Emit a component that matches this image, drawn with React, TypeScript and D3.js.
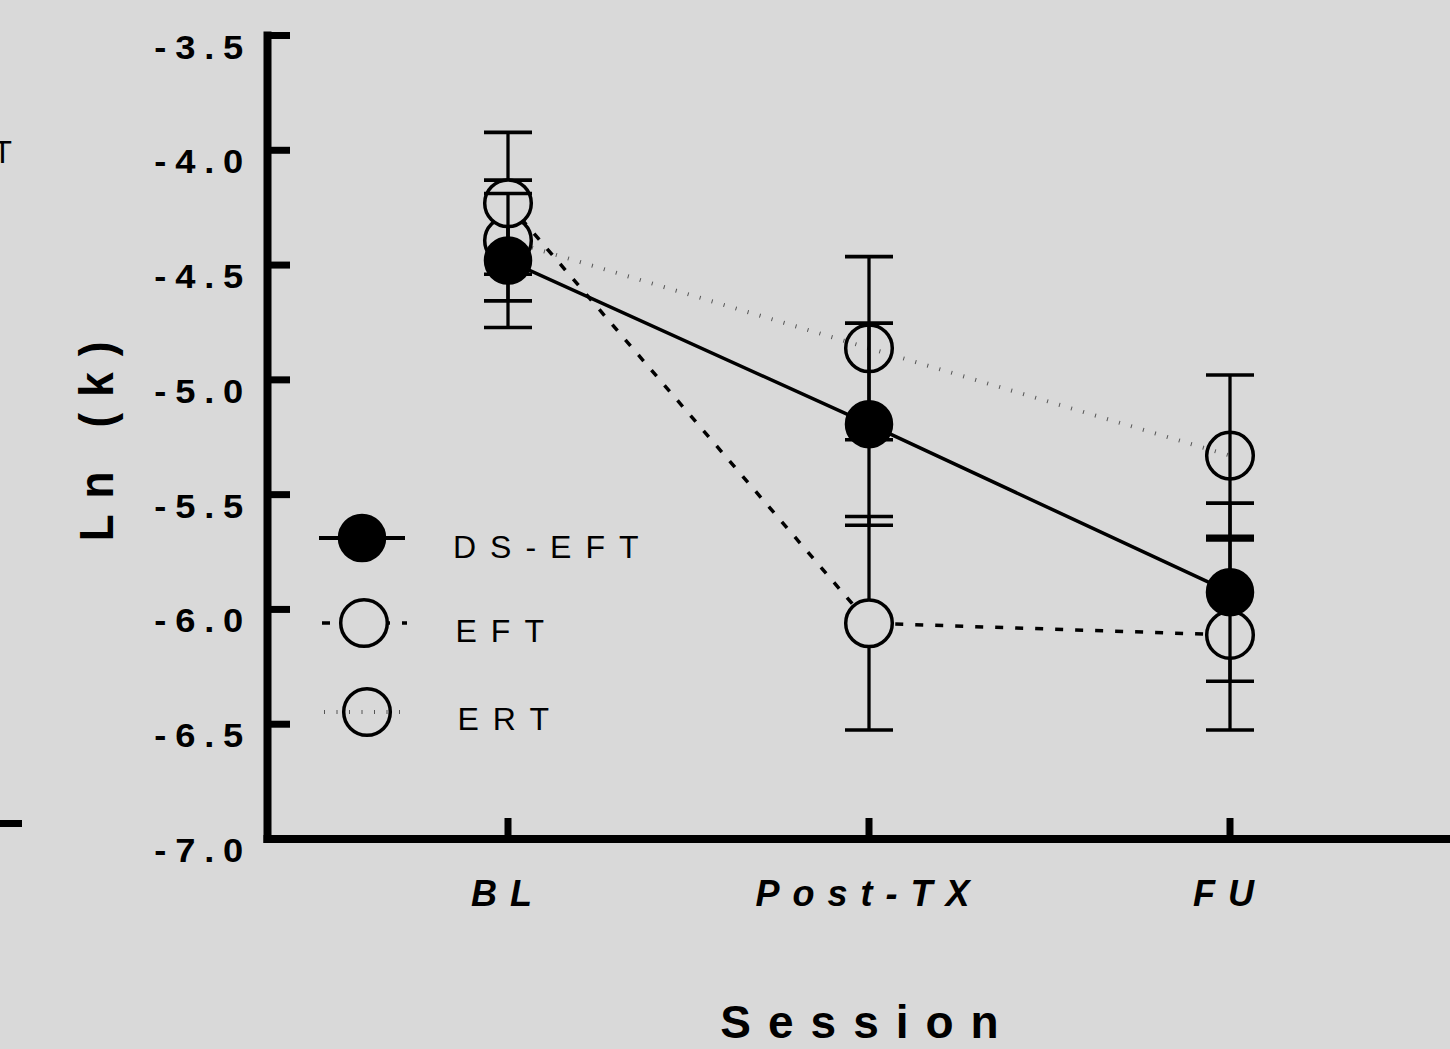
import { useRef, useEffect } from "react";
import * as d3 from "d3";

// Session means and SEM (Ln(k))
const sessions = ["BL", "Post-TX", "FU"];
const dsEftMean = [-4.48, -5.193, -5.925];
const dsEftSem = [0.292, 0.44, 0.388];
const eftMean = [-4.231, -6.06, -6.111];
const eftSem = [0.309, 0.465, 0.414];
const ertMean = [-4.393, -4.862, -5.33];
const ertSem = [0.263, 0.399, 0.351];
const yTicks = [-3.5, -4.0, -4.5, -5.0, -5.5, -6.0, -6.5, -7.0];
const legendLabels = ["DS-EFT", "EFT", "ERT"];

const W = 1450;
const H = 1049;
const BG = "#d9d9d9";
const FONT = "'Liberation Sans', Arial, Helvetica, sans-serif";

export default function App() {
  const svgRef = useRef<SVGSVGElement | null>(null);

  useEffect(() => {
    if (!svgRef.current) return;
    const svg = d3.select(svgRef.current);
    svg.selectAll("*").remove();

    svg.append("rect").attr("width", W).attr("height", H).attr("fill", BG);

    const x = d3.scalePoint<string>().domain(sessions).range([508, 1230]);
    const y = d3.scaleLinear().domain([-3.5, -7]).range([35.5, 839]);

    // fragments of the neighbouring panel at the left edge
    svg.append("text")
      .attr("x", -7).attr("y", 163)
      .attr("font-family", FONT).attr("font-size", 31)
      .attr("fill", "#000").text("T");
    svg.append("rect").attr("x", 0).attr("y", 820).attr("width", 22).attr("height", 7).attr("fill", "#000");

    // Y axis
    svg.append("line")
      .attr("x1", 267.5).attr("x2", 267.5)
      .attr("y1", y(-3.5) - 4).attr("y2", y(-7) + 4)
      .attr("stroke", "#000").attr("stroke-width", 8);
    yTicks.forEach((t) => {
      svg.append("line")
        .attr("x1", 264).attr("x2", 290)
        .attr("y1", y(t)).attr("y2", y(t))
        .attr("stroke", "#000").attr("stroke-width", 7);
      svg.append("g")
        .attr("transform", `translate(252,${y(t) + 23}) scale(1.1,1)`)
        .append("text")
        .attr("text-anchor", "end")
        .attr("font-family", FONT).attr("font-weight", "bold")
        .attr("font-size", 33).attr("letter-spacing", 8)
        .attr("fill", "#000")
        .text(t.toFixed(1));
    });

    // X axis
    svg.append("line")
      .attr("x1", 263.5).attr("x2", W)
      .attr("y1", 839).attr("y2", 839)
      .attr("stroke", "#000").attr("stroke-width", 8);
    sessions.forEach((s) => {
      svg.append("line")
        .attr("x1", x(s)!).attr("x2", x(s)!)
        .attr("y1", 839).attr("y2", 818)
        .attr("stroke", "#000").attr("stroke-width", 7);
      svg.append("text")
        .attr("x", x(s)!).attr("y", 906)
        .attr("text-anchor", "middle")
        .attr("font-family", FONT).attr("font-weight", "bold").attr("font-style", "italic")
        .attr("font-size", 36).attr("letter-spacing", 13)
        .attr("fill", "#000")
        .text(s);
    });

    // axis titles
    svg.append("text")
      .attr("x", 868).attr("y", 1038)
      .attr("text-anchor", "middle")
      .attr("font-family", FONT).attr("font-weight", "bold")
      .attr("font-size", 46).attr("letter-spacing", 17)
      .attr("fill", "#000")
      .text("Session");

    svg.append("g")
      .attr("transform", "translate(113,433.5) rotate(-90) scale(1,1.1)")
      .append("text")
      .attr("text-anchor", "middle")
      .attr("font-family", FONT).attr("font-weight", "bold")
      .attr("font-size", 44).attr("letter-spacing", 16)
      .attr("fill", "#000")
      .text("Ln (k)");

    // series, drawn back to front
    const series = [
      { mean: ertMean, sem: ertSem, dash: "1,11.5", stroke: "#555", lw: 4, fill: "none", r: 23.3 },
      { mean: eftMean, sem: eftSem, dash: "8,12", stroke: "#000", lw: 3.5, fill: BG, r: 23.3 },
      { mean: dsEftMean, sem: dsEftSem, dash: null, stroke: "#000", lw: 3.5, fill: "#000", r: 22.5 },
    ];

    const line = d3.line<number>()
      .x((_, i) => x(sessions[i])!)
      .y((d) => y(d));

    series.forEach((s) => {
      svg.append("path")
        .attr("d", line(s.mean))
        .attr("fill", "none")
        .attr("stroke", s.stroke)
        .attr("stroke-width", s.lw)
        .attr("stroke-dasharray", s.dash);

      s.mean.forEach((m, i) => {
        const cx = x(sessions[i])!;
        const top = y(m + s.sem[i]);
        const bot = y(m - s.sem[i]);
        svg.append("line")
          .attr("x1", cx).attr("x2", cx).attr("y1", top).attr("y2", bot)
          .attr("stroke", "#000").attr("stroke-width", 3.3);
        [top, bot].forEach((yy) => {
          svg.append("line")
            .attr("x1", cx - 24).attr("x2", cx + 24).attr("y1", yy).attr("y2", yy)
            .attr("stroke", "#000").attr("stroke-width", 3.6);
        });
      });

      svg.selectAll(null)
        .data(s.mean)
        .enter()
        .append("circle")
        .attr("cx", (_, i) => x(sessions[i])!)
        .attr("cy", (d) => y(d))
        .attr("r", s.r)
        .attr("fill", s.fill)
        .attr("stroke", "#000")
        .attr("stroke-width", 3.5);
    });

    // Legend
    const legendRows = [
      { y: 538, cx: 362, x1: 319, x2: 405, tx: 453, ty: 558, s: series[2] },
      { y: 623, cx: 364, x1: 322, x2: 407, tx: 455.5, ty: 642, s: series[1] },
      { y: 712, cx: 367, x1: 324, x2: 401, tx: 457.5, ty: 730, s: series[0] },
    ];
    legendRows.forEach((row, i) => {
      svg.append("line")
        .attr("x1", row.x1).attr("x2", row.x2).attr("y1", row.y).attr("y2", row.y)
        .attr("stroke", row.s.stroke)
        .attr("stroke-width", i === 0 ? 4 : row.s.lw)
        .attr("stroke-dasharray", row.s.dash);
      svg.append("circle")
        .attr("cx", row.cx).attr("cy", row.y).attr("r", row.s.r)
        .attr("fill", row.s.fill)
        .attr("stroke", "#000").attr("stroke-width", 3.5);
      svg.append("text")
        .attr("x", row.tx).attr("y", row.ty)
        .attr("font-family", FONT).attr("font-size", 32).attr("letter-spacing", 14)
        .attr("fill", "#000")
        .text(legendLabels[i]);
    });
  }, []);

  return (
    <div style={{ position: "absolute", left: 0, top: 0, width: W, height: H }}>
      <svg ref={svgRef} width={W} height={H} style={{ display: "block" }} />
    </div>
  );
}
